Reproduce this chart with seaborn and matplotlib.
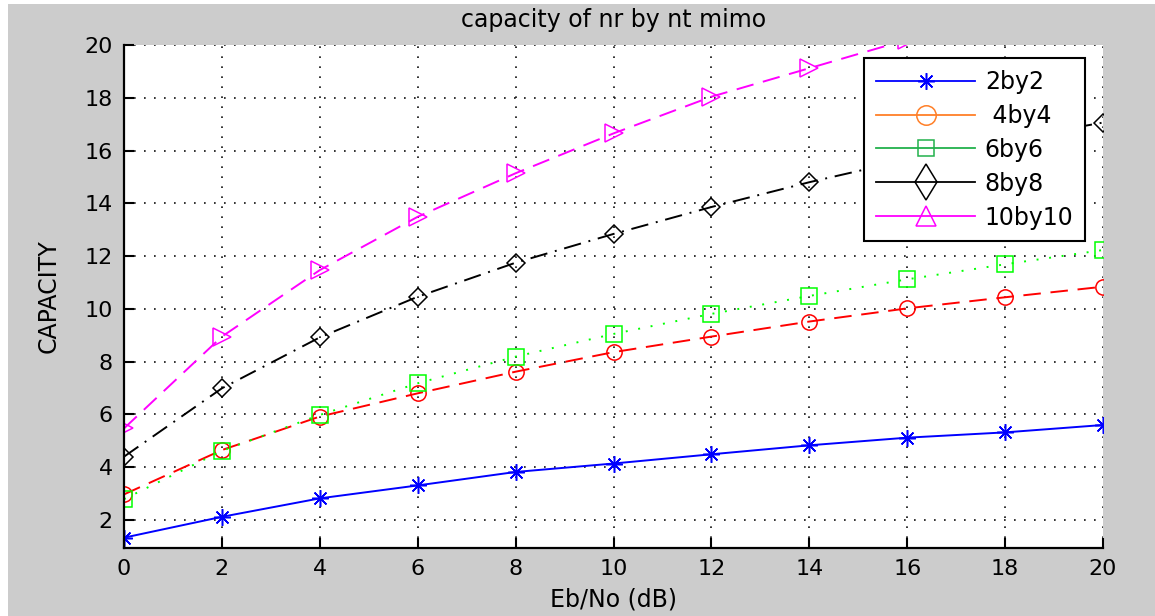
import numpy as np
import pandas as pd
import matplotlib
matplotlib.use("Agg")
import matplotlib.pyplot as plt
from matplotlib.lines import Line2D
from matplotlib.patches import Rectangle
import seaborn as sns

# values
ebno = [0, 2, 4, 6, 8, 10, 12, 14, 16, 18, 20]
cap_2by2 = [1.33, 2.12, 2.82, 3.31, 3.82, 4.14, 4.49, 4.83, 5.12, 5.32, 5.60]
cap_4by4 = [2.97, 4.65, 5.92, 6.80, 7.62, 8.36, 8.95, 9.52, 10.02, 10.44, 10.84]
cap_6by6 = [2.79, 4.62, 5.98, 7.18, 8.19, 9.05, 9.81, 10.49, 11.12, 11.69, 12.23]
cap_8by8 = [4.40, 6.99, 8.92, 10.46, 11.75, 12.84, 13.86, 14.80, 15.65, 16.40, 17.06]
cap_10by10 = [5.47, 8.95, 11.47, 13.49, 15.14, 16.65, 18.04, 19.12, 20.20, 21.20, 22.10]

labels = ["2by2", " 4by4", "6by6", "8by8", "10by10"]
series = [cap_2by2, cap_4by4, cap_6by6, cap_8by8, cap_10by10]
xticks = list(range(0, 21, 2))
yticks = list(range(2, 21, 2))

line_colors = ["#0000ff", "#ff0000", "#00ff00", "#000000", "#ff00ff"]
legend_colors = ["#0000ff", "#ff7f27", "#22b14c", "#000000", "#ff00ff"]
plot_markers = [(8, 2, 0), "o", "s", "D", ">"]
legend_markers = [(8, 2, 0), "o", "s", "d", "^"]
plot_ms = [12, 11, 12, 9.5, 13]
legend_ms = [12, 14, 12, 18, 15]
styles = ["-", (0, (9, 5)), (0, (1, 5.5)), (0, (9, 4, 1, 4)), (0, (9, 5))]

plt.rcParams["font.family"] = ["DejaVu Sans"]
plt.rcParams["font.size"] = 16

fig = plt.figure(figsize=(11.55, 6.16), dpi=100)
fig.patch.set_facecolor("white")
fig.add_artist(Rectangle((8 / 1155, 0), 1, 612 / 616, transform=fig.transFigure,
                         facecolor="#cccccc", edgecolor="none", zorder=-10))
ax = fig.add_axes([124 / 1155, (616 - 547.7) / 616, 979 / 1155, 502.7 / 616])
ax.set_facecolor("white")

df = pd.DataFrame({"ebno": ebno})
for lab, vals, col, mk, ms, ls in zip(labels, series, line_colors, plot_markers, plot_ms, styles):
    df[lab] = vals
    sns.lineplot(data=df, x="ebno", y=lab, ax=ax, color=col, linewidth=1.4,
                 linestyle=ls, marker=mk, markersize=ms, markerfacecolor="none",
                 markeredgecolor=col, markeredgewidth=1.1, clip_on=True)

ax.set_xlim(0, 20)
ax.set_ylim(0.95, 20)
ax.set_xticks(xticks)
ax.set_yticks(yticks)
ax.grid(True, color="#111111", linestyle=(0, (1, 5)), linewidth=1.2)
ax.tick_params(direction="in", length=7, width=1.5, labelsize=16, pad=8)
for side in ["top", "right"]:
    ax.spines[side].set_visible(False)
for side in ["left", "bottom"]:
    ax.spines[side].set_linewidth(1.6)

ax.set_title("capacity of nr by nt mimo", fontsize=17, pad=13)
ax.set_xlabel("Eb/No (dB)", fontsize=17, labelpad=6)
ax.set_ylabel("CAPACITY", fontsize=17)
ax.yaxis.set_label_coords(-0.065, 0.5)

handles = [Line2D([], [], color=c, marker=m, markersize=s, markerfacecolor="none",
                  markeredgecolor=c, markeredgewidth=1.1, linewidth=1.3)
           for c, m, s in zip(legend_colors, legend_markers, legend_ms)]
leg = ax.legend(handles, labels, loc="upper right", bbox_to_anchor=(0.982, 0.974),
                borderaxespad=0, fontsize=17, handlelength=4.2, handletextpad=0.4,
                labelspacing=0.42, borderpad=0.5, fancybox=False, framealpha=1,
                edgecolor="black")
leg.get_frame().set_linewidth(1.5)

fig.savefig("out.png", dpi=100, facecolor=fig.get_facecolor())
